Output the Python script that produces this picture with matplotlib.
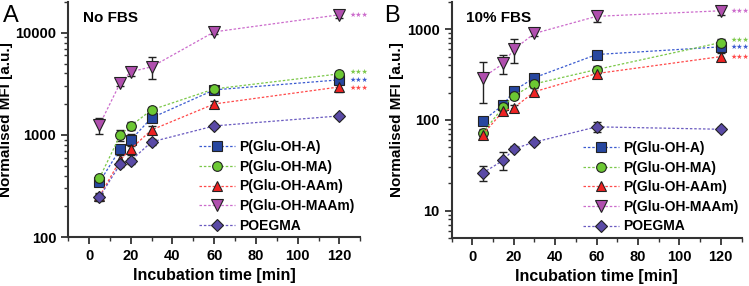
import matplotlib.pyplot as plt
from matplotlib.ticker import LogLocator, MultipleLocator, NullFormatter

plt.rcParams["font.family"] = ["Liberation Sans", "DejaVu Sans"]
plt.rcParams["font.weight"] = "bold"

# ── data ─────────────────────────────────────────────────────────────── #
time_min = [5, 15, 20, 30, 60, 120]

labels = ["P(Glu-OH-A)", "P(Glu-OH-MA)", "P(Glu-OH-AAm)", "P(Glu-OH-MAAm)", "POEGMA"]

# panel A: no FBS
nofbs_a = [346, 730, 893, 1470, 2760, 3460]
nofbs_ma = [378, 1000, 1225, 1760, 2820, 3960]
nofbs_aam = [250, 570, 730, 1120, 2010, 2950]
nofbs_maam = [1250, 3240, 4150, 4640, 10200, 15000]
nofbs_poegma = [246, 520, 560, 855, 1225, 1535]

nofbs_a_err = [20, 60, 120, 100, 150, 250]
nofbs_ma_err = [20, 120, 100, 100, 150, 250]
nofbs_aam_err = [20, 60, 100, 100, 150, 300]
nofbs_maam_err = [220, 250, 400, 1100, 500, 1200]
nofbs_poegma_err = [20, 40, 40, 50, 60, 60]

# panel B: 10% FBS
fbs_a = [98, 147, 210, 293, 527, 640]
fbs_ma = [72, 140, 185, 250, 360, 715]
fbs_aam = [69, 126, 136, 205, 325, 500]
fbs_maam = [293, 420, 600, 900, 1390, 1600]
fbs_poegma = [26, 36, 48, 57, 84, 79]

fbs_a_err = [5, 10, 20, 25, 30, 40]
fbs_ma_err = [8, 10, 15, 20, 30, 60]
fbs_aam_err = [8, 10, 10, 20, 25, 50]
fbs_maam_err = [140, 100, 180, 60, 200, 150]
fbs_poegma_err = [5, 8, 3, 3, 10, 4]

# series that get "***" next to their 120 min point, with a small vertical nudge (pt)
stars_a = {0: 0.0, 1: 1.5, 2: -1.0, 3: 0.0}
stars_b = {0: 0.0, 1: 1.5, 2: -0.5, 3: 0.0}

# ── style ────────────────────────────────────────────────────────────── #
marker_colors = ["#2747a0", "#6cc833", "#ee2222", "#b04fae", "#5a4aa6"]
line_colors = ["#3b5bd0", "#7cc84a", "#ff4a4a", "#cc6ccc", "#6a5ac0"]
markers = ["s", "o", "^", "v", "D"]
marker_sizes = [6.5, 7, 7.5, 8, 6.5]
AXIS_COLOR = "#333333"


def draw_panel(ax, series, errors, ylim, yticks, stars, legend_anchor):
    for i, (vals, errs) in enumerate(zip(series, errors)):
        ax.errorbar(time_min, vals, yerr=errs, fmt="none", ecolor="#222222",
                    elinewidth=1.0, capsize=3, capthick=1.0, zorder=2)
        ax.plot(time_min, vals, linestyle=(0, (2, 1.5)), linewidth=0.9,
                color=line_colors[i], marker=markers[i], markersize=marker_sizes[i],
                markerfacecolor=marker_colors[i], markeredgecolor="#222222",
                markeredgewidth=0.8, label=labels[i], zorder=3)
    # significance stars next to the last point
    for i, dy in stars.items():
        ax.annotate("\u2605\u2605\u2605", (time_min[-1], series[i][-1]),
                    xytext=(7, dy), textcoords="offset points",
                    color=line_colors[i], fontsize=5, family="DejaVu Sans",
                    ha="left", va="center")

    ax.set_yscale("log")
    ax.set_xlim(-10, 130)
    ax.set_ylim(*ylim)
    ax.set_yticks(yticks)
    ax.set_yticklabels([str(t) for t in yticks])
    ax.yaxis.set_minor_locator(LogLocator(base=10, subs=range(2, 10)))
    ax.yaxis.set_minor_formatter(NullFormatter())
    ax.xaxis.set_major_locator(MultipleLocator(20))
    ax.xaxis.set_minor_locator(MultipleLocator(10))
    for side in ("top", "right"):
        ax.spines[side].set_visible(False)
    for side in ("left", "bottom"):
        ax.spines[side].set_linewidth(1.5)
        ax.spines[side].set_color(AXIS_COLOR)
    ax.tick_params(which="major", length=5, width=1.3, color=AXIS_COLOR,
                   labelsize=10.5)
    ax.tick_params(which="minor", length=3, width=1.0, color=AXIS_COLOR)
    ax.set_xlabel("Incubation time [min]", fontsize=11.5, fontweight="bold")
    ax.set_ylabel("Normalised MFI [a.u.]", fontsize=11, fontweight="bold",
                  labelpad=2)
    ax.legend(loc="lower left", bbox_to_anchor=legend_anchor, frameon=False,
              fontsize=10, handlelength=2.6, handletextpad=0.3,
              labelspacing=0.4, borderpad=0.0)


fig = plt.figure(figsize=(7.49, 2.86), dpi=100)
ax_a = fig.add_axes([0.091, 0.171, 0.39, 0.822])
ax_b = fig.add_axes([0.603, 0.168, 0.387, 0.825])

draw_panel(ax_a,
           [nofbs_a, nofbs_ma, nofbs_aam, nofbs_maam, nofbs_poegma],
           [nofbs_a_err, nofbs_ma_err, nofbs_aam_err, nofbs_maam_err, nofbs_poegma_err],
           (100, 20000), [100, 1000, 10000], stars_a, (0.425, -0.01))
draw_panel(ax_b,
           [fbs_a, fbs_ma, fbs_aam, fbs_maam, fbs_poegma],
           [fbs_a_err, fbs_ma_err, fbs_aam_err, fbs_maam_err, fbs_poegma_err],
           (5, 2000), [10, 100, 1000], stars_b, (0.43, -0.01))

ax_a.text(0.05, 0.96, "No FBS", transform=ax_a.transAxes, fontsize=11,
          fontweight="bold", va="top")
ax_b.text(0.05, 0.96, "10% FBS", transform=ax_b.transAxes, fontsize=11,
          fontweight="bold", va="top")
fig.text(0.004, 0.945, "A", fontsize=17, fontweight="normal", va="center")
fig.text(0.513, 0.945, "B", fontsize=17, fontweight="normal", va="center")

fig.savefig("out.png", dpi=100)
